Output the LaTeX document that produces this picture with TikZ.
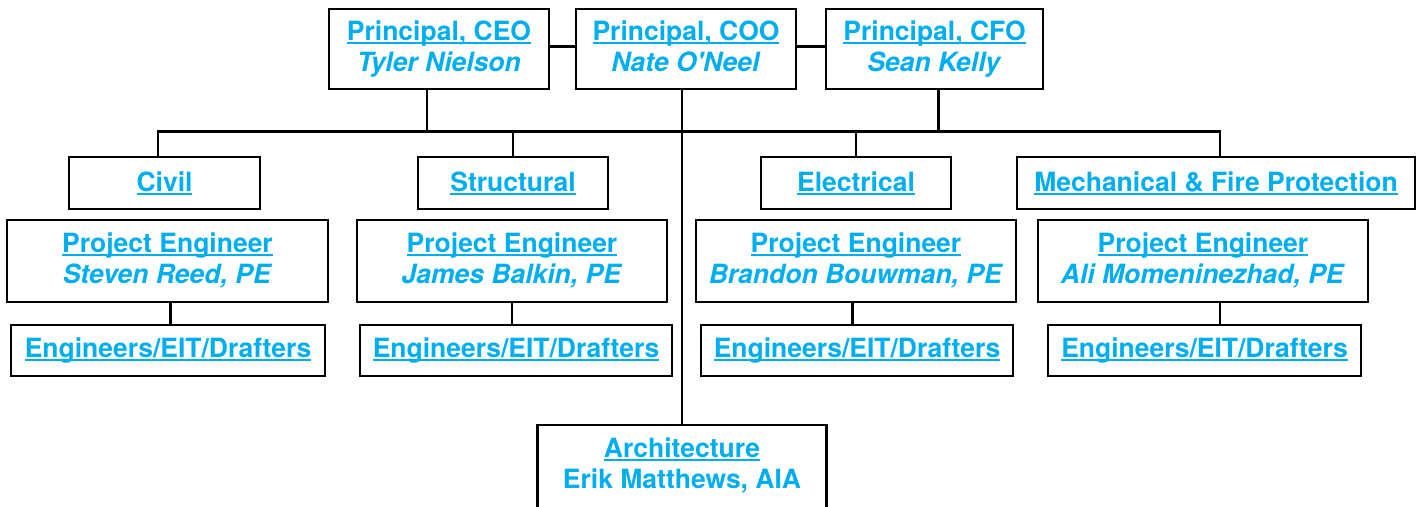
\documentclass[tikz,border=0pt]{standalone}
\usepackage{fontspec}
\setmainfont{TeX Gyre Heros}
\definecolor{orgblue}{RGB}{0,174,239}
\newcommand{\orgfont}{\fontsize{26.5pt}{31pt}\selectfont\bfseries}
% underlined title line
\newcommand{\orgul}[1]{\sbox0{#1}\rlap{\rule[-3.6pt]{\wd0}{1.7pt}}\copy0}
% name line, same depth in every box
\newcommand{\orgname}[1]{\textit{#1}\vphantom{y}}

\begin{document}
\begin{tikzpicture}[x=1pt, y=-1pt,
    unit/.style={draw, line width=2.7pt, inner sep=0pt, align=center, text=orgblue, font=\orgfont},
    link/.style={line width=2.6pt}
]
    \useasboundingbox (0,0) rectangle (1421,506);

    % principals
    \node[unit, minimum width=220pt, minimum height=80pt] (ceo) at (439,49) {\orgul{Principal, CEO}\\\orgname{Tyler Nielson}};
    \node[unit, minimum width=220pt, minimum height=80pt] (coo) at (686,49) {\orgul{Principal, COO}\\\orgname{Nate O\textquotesingle Neel}};
    \node[unit, minimum width=217pt, minimum height=80pt] (cfo) at (934.5,49) {\orgul{Principal, CFO}\\\orgname{Sean Kelly}};

    % departments
    \node[unit, minimum width=191pt, minimum height=52pt] (civil) at (164.5,183) {\orgul{Civil}};
    \node[unit, minimum width=190pt, minimum height=52pt] (struct) at (513,183) {\orgul{Structural}};
    \node[unit, minimum width=190pt, minimum height=52pt] (elec) at (856,183) {\orgul{Electrical}};
    \node[unit, minimum width=398pt, minimum height=52pt] (mech) at (1216,183) {\orgul{Mechanical \& Fire Protection}};

    % project engineers
    \node[unit, minimum width=321pt, minimum height=82pt] (civpe) at (167.5,261) {\orgul{Project Engineer}\\\orgname{Steven Reed, PE}};
    \node[unit, minimum width=310pt, minimum height=82pt] (strpe) at (512,261) {\orgul{Project Engineer}\\\orgname{James Balkin, PE}};
    \node[unit, minimum width=320pt, minimum height=82pt] (elepe) at (856,261) {\orgul{Project Engineer}\\\orgname{Brandon Bouwman, PE}};
    \node[unit, minimum width=330pt, minimum height=82pt] (mecpe) at (1203,261) {\orgul{Project Engineer}\\\orgname{Ali Momeninezhad, PE}};

    % staff
    \node[unit, minimum width=314pt, minimum height=51pt] (civeit) at (168,350.5) {\orgul{Engineers/EIT/Drafters}};
    \node[unit, minimum width=312pt, minimum height=51pt] (streit) at (516,350.5) {\orgul{Engineers/EIT/Drafters}};
    \node[unit, minimum width=312pt, minimum height=51pt] (eleeit) at (857,350.5) {\orgul{Engineers/EIT/Drafters}};
    \node[unit, minimum width=313pt, minimum height=51pt] (meceit) at (1204.5,350.5) {\orgul{Engineers/EIT/Drafters}};

    % architecture, box runs off the bottom
    \node[unit, draw=none, anchor=north, minimum width=286pt, inner ysep=11.5pt] (arch) at (682,425) {\orgul{Architecture}\\Erik Matthews, AIA};
    \draw[line width=2.7pt] (arch.north west) rectangle ([yshift=-20pt]arch.south east);

    % principals row
    \draw[link] ([yshift=2.3pt]ceo.east) -- ([yshift=2.3pt]coo.west);
    \draw[link] ([yshift=2.3pt]coo.east) -- ([yshift=2.3pt]cfo.west);

    % bus to departments
    \coordinate (busL) at (158,131.5);
    \coordinate (busR) at (1220,131.5);
    \draw[link] (civil.north -| busL) -- (busL) -- (busR) -- (mech.north -| busR);
    \draw[link] ([xshift=-12pt]ceo.south) -- ([xshift=-12pt]ceo.south |- busL);
    \draw[link] ([xshift=4pt]cfo.south) -- ([xshift=4pt]cfo.south |- busL);
    \draw[link] (struct.north) -- (struct.north |- busL);
    \draw[link] (elec.north) -- (elec.north |- busL);
    \draw[link] (coo.south -| arch.north) -- (arch.north);

    % engineers to staff
    \draw[link] ([xshift=3pt]civpe.south) -- ([xshift=3pt]civpe.south |- civeit.north);
    \draw[link] (strpe.south) -- (strpe.south |- streit.north);
    \draw[link] ([xshift=-3.5pt]elepe.south) -- ([xshift=-3.5pt]elepe.south |- eleeit.north);
    \draw[link] ([xshift=17pt]mecpe.south) -- ([xshift=17pt]mecpe.south |- meceit.north);
\end{tikzpicture}
\end{document}
